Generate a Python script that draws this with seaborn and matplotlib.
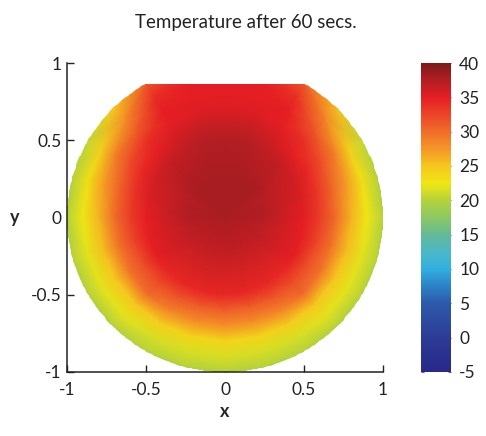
import numpy as np
import matplotlib
matplotlib.use("Agg")
from matplotlib import pyplot as plt
from matplotlib.colors import LinearSegmentedColormap, Normalize
from matplotlib.patches import Polygon
import seaborn as sns

# polar sample grid of the wafer (radius, angle in degrees from +x axis)
radii = [0.0, 0.25, 0.5, 0.6, 0.7, 0.8, 0.9, 1.0, 1.1]
angles = list(range(0, 361, 15))

# temperature read along each angle, from centre to edge
temp_0 = [38, 37.5, 35, 33, 30, 26, 22.5, 20, 19.5]
temp_15 = [38, 37.5, 35.5, 33.5, 30.5, 27, 23, 20, 19.5]
temp_30 = [38, 37.5, 36, 34.5, 32, 29, 24.5, 20.5, 20]
temp_45 = [38, 38, 36.5, 35, 34, 31.5, 28.5, 25.5, 24]
temp_60 = [38, 38, 37, 36, 35, 35, 34, 31.5, 30]
temp_75 = [38, 38, 37.5, 36.5, 35.5, 35, 35, 35, 35]
temp_90 = [38, 38, 37.5, 36.5, 35.5, 35, 35, 35, 35]
temp_105 = [38, 38, 37.5, 36.5, 35.5, 35, 35, 35, 35]
temp_120 = [38, 38, 37, 36, 35, 35, 34, 31.5, 30]
temp_135 = [38, 38, 36.5, 35, 34, 31, 28, 25, 24]
temp_150 = [38, 37.5, 36, 34.5, 32, 29, 24.5, 20.5, 20]
temp_165 = [38, 37.5, 35.5, 33.5, 30.5, 27, 23, 20, 19.5]
temp_180 = [38, 37.5, 35, 33, 30, 26, 22.5, 20, 19.5]
temp_195 = [38, 37, 35, 32.5, 29.5, 25.5, 22, 20, 19.5]
temp_210 = [38, 37, 35, 32, 29.5, 25, 22, 20, 19.5]
temp_225 = [38, 36.5, 34.5, 32, 30, 25, 22, 20, 19.5]
temp_240 = [38, 36.5, 34.5, 31.5, 28.5, 24.5, 21.5, 20, 19.5]
temp_255 = [38, 36.5, 34.5, 31, 28, 24, 21.5, 20, 19.5]
temp_270 = [38, 36.5, 34.5, 31, 28, 24, 21.5, 20, 19.5]
temp_285 = [38, 36.5, 34.5, 31, 28, 24, 21.5, 20, 19.5]
temp_300 = [38, 36.5, 34.5, 31.5, 28.5, 24.5, 21.5, 20, 19.5]
temp_315 = [38, 36.5, 34.5, 32, 30, 25, 22, 20, 19.5]
temp_330 = [38, 37, 35, 32, 29.5, 25, 22, 20, 19.5]
temp_345 = [38, 37, 35, 32.5, 29.5, 25.5, 22, 20, 19.5]
temp_360 = temp_0

cbar_ticks = [-5, 0, 5, 10, 15, 20, 25, 30, 35, 40]
axis_ticks = [-1, -0.5, 0, 0.5, 1]
tick_labels = ["-1", "-0.5", "0", "0.5", "1"]

# colour scale as printed in the colour bar (muted jet)
scale_values = [-5, 0, 5, 7.5, 10, 12.5, 15, 17.5, 20, 22.5, 25, 27.5, 30,
                32.5, 35, 37.5, 40]
scale_colors = ["#28288a", "#2d3c96", "#2d5aaa", "#2c82c8", "#32afe1",
                "#4bb8c8", "#64b996", "#8cc864", "#b4d23c", "#f0e614",
                "#f5c81e", "#f59628", "#f06e28", "#eb4628", "#e61e23",
                "#b41e23", "#7d1919"]

sns.set_style("ticks")
plt.rcParams["font.family"] = ["Lato", "DejaVu Sans"]
plt.rcParams["axes.unicode_minus"] = False

T = np.array([temp_0, temp_15, temp_30, temp_45, temp_60, temp_75, temp_90,
              temp_105, temp_120, temp_135, temp_150, temp_165, temp_180,
              temp_195, temp_210, temp_225, temp_240, temp_255, temp_270,
              temp_285, temp_300, temp_315, temp_330, temp_345, temp_360])
R, A = np.meshgrid(radii, np.deg2rad(angles))
X = R * np.cos(A)
Y = R * np.sin(A)

vmin, vmax = scale_values[0], scale_values[-1]
pos = [(v - vmin) / (vmax - vmin) for v in scale_values]
cmap = LinearSegmentedColormap.from_list("print_jet", list(zip(pos, scale_colors)))

fig = plt.figure(figsize=(4.86, 4.36), dpi=100)
ax = fig.add_axes([0.138, 0.1468, 0.650, 0.7087])
cax = fig.add_axes([0.866, 0.1468, 0.0617, 0.7087])

mesh = ax.pcolormesh(X, Y, T, shading="gouraud", cmap=cmap,
                     norm=Normalize(vmin, vmax))

# wafer outline: unit circle with a flat cut between 60 and 120 degrees
arc = np.deg2rad(np.linspace(120, 420, 300))
outline = Polygon(np.column_stack([np.cos(arc), np.sin(arc)]), closed=True,
                  transform=ax.transData, facecolor="none", edgecolor="none")
ax.add_patch(outline)
mesh.set_clip_path(outline)

ax.set_xlim(-1, 1)
ax.set_ylim(-1, 1)
ax.set_xticks(axis_ticks)
ax.set_xticklabels(tick_labels)
ax.set_yticks(axis_ticks)
ax.set_yticklabels(tick_labels)
ax.tick_params(direction="in", length=5, width=1, colors="#222222",
               labelsize=12.5)
ax.tick_params(axis="x", pad=7)
ax.tick_params(axis="y", pad=4)
for s in ["left", "bottom"]:
    ax.spines[s].set_linewidth(1.1)
    ax.spines[s].set_color("#222222")
sns.despine(ax=ax)
ax.set_xlabel("x", fontsize=13, fontweight="bold")
ax.set_ylabel("y", fontsize=13, fontweight="bold", rotation=0, va="center")
ax.xaxis.set_label_coords(0.5, -0.10)
ax.yaxis.set_label_coords(-0.165, 0.5)

cb = fig.colorbar(mesh, cax=cax, ticks=cbar_ticks)
cb.set_ticklabels([str(t) for t in cbar_ticks])
cb.outline.set_visible(False)
cax.yaxis.set_ticks_position("both")
cax.tick_params(direction="in", length=2.5, width=0.8, colors="#666666",
                labelsize=12.5, labelcolor="#222222", pad=6)
cax.tick_params(labelleft=False, labelright=True)

fig.suptitle("Temperature after 60 secs.", x=0.505, y=0.968, fontsize=13.5,
             color="#222222")

fig.savefig("out.png", dpi=100)
